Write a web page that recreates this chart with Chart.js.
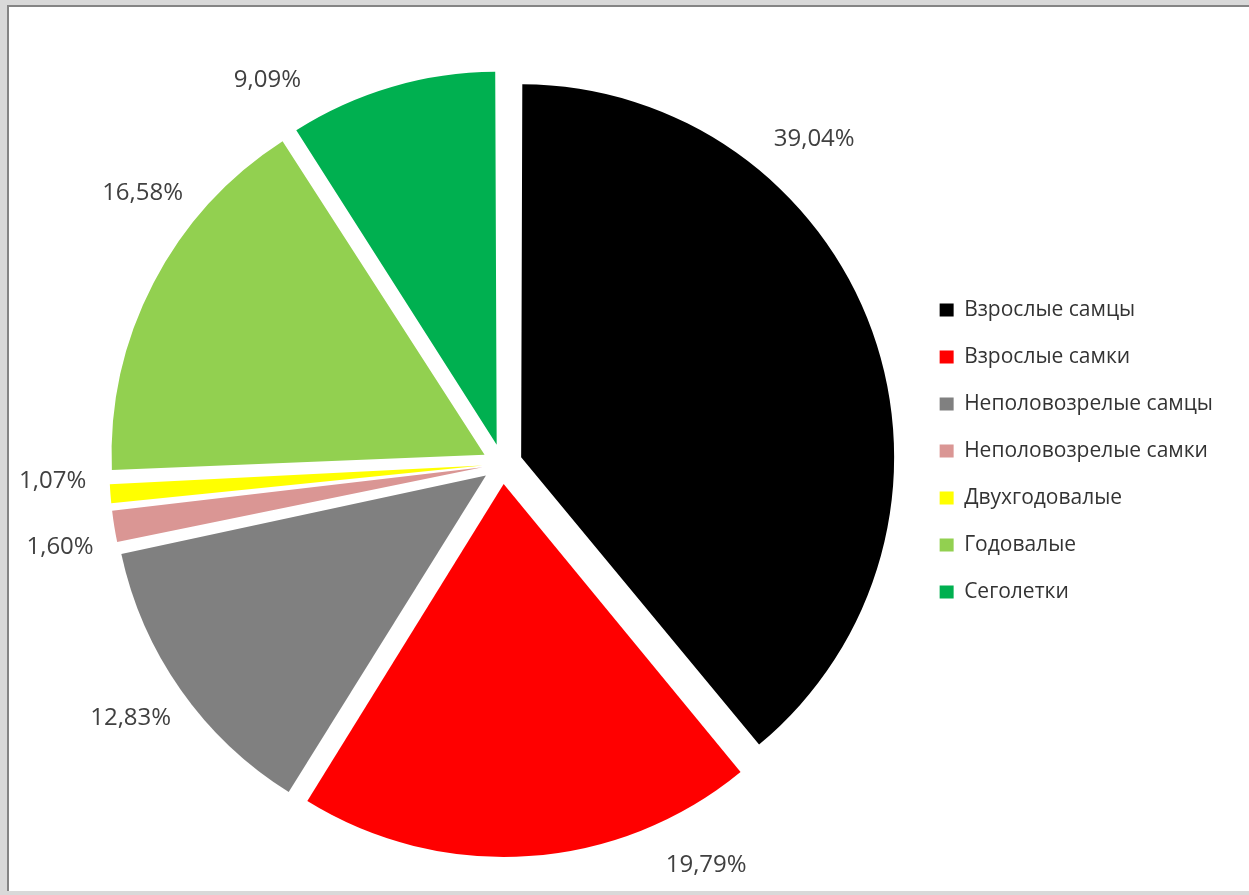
<!DOCTYPE html>
<html>
<head>
<meta charset="utf-8">
<script src="https://cdn.jsdelivr.net/npm/chart.js@4/dist/chart.umd.min.js"></script>
<style>
  html, body { margin: 0; padding: 0; }
  body { width: 1249px; height: 895px; background: #d9d9d9; position: relative; overflow: hidden; }
  #frame { position: absolute; left: 7px; top: 5px; right: 0; bottom: 4px; background: #fff;
           border-top: 2px solid #858585; border-left: 2px solid #858585; }
  #wrap { position: absolute; left: 0; top: 0; width: 1249px; height: 895px; }
</style>
</head>
<body>
<div id="frame"></div>
<div id="wrap"><canvas id="pieChart"></canvas></div>
<script>
const categories = [
    "Взрослые самцы",
    "Взрослые самки",
    "Неполовозрелые самцы",
    "Неполовозрелые самки",
    "Двухгодовалые",
    "Годовалые",
    "Сеголетки"
];
const shares = [39.04, 19.79, 12.83, 1.60, 1.07, 16.58, 9.09];
const shareLabels = ["39,04%", "19,79%", "12,83%", "1,60%", "1,07%", "16,58%", "9,09%"];
const colors = ["#000000", "#ff0000", "#808080", "#da9694", "#ffff00", "#92d050", "#00b050"];

// Chart.js grows thin exploded slices outward; keep every slice at the same radius
const evenRadius = {
    id: "evenRadius",
    beforeDatasetsDraw(chart) {
        const meta = chart.getDatasetMeta(0);
        const base = meta.controller.outerRadius;
        meta.data.forEach(arc => {
            const off = (arc.options.offset || 0) / 4;
            const circ = arc.endAngle - arc.startAngle;
            const fix = 1 - Math.sin(Math.min(Math.PI, circ));
            arc.outerRadius = base - off * fix;
        });
    }
};

// labels outside the slices, nudged round the circle like the original
const outsideLabels = {
    id: "outsideLabels",
    afterDatasetsDraw(chart, args, opts) {
        const ctx = chart.ctx;
        const meta = chart.getDatasetMeta(0);
        ctx.save();
        ctx.font = opts.font;
        ctx.fillStyle = opts.color;
        ctx.textAlign = "center";
        ctx.textBaseline = "middle";
        meta.data.forEach((arc, i) => {
            const mid = (arc.startAngle + arc.endAngle) / 2 + (opts.shift[i] || 0) * Math.PI / 180;
            const r = meta.controller.outerRadius + opts.distance;
            ctx.fillText(shareLabels[i], arc.x + Math.cos(mid) * r, arc.y + Math.sin(mid) * r);
        });
        ctx.restore();
    }
};

new Chart(document.getElementById("pieChart"), {
    type: "pie",
    data: {
        labels: categories,
        datasets: [{
            data: shares,
            backgroundColor: colors,
            borderWidth: 0,
            offset: 80,
            radius: 373
        }]
    },
    options: {
        responsive: true,
        maintainAspectRatio: false,
        animation: false,
        layout: { padding: { left: 91, right: 26, top: 7, bottom: 0 } },
        plugins: {
            tooltip: { enabled: false },
            title: {
                display: true,
                text: "",
                fullSize: false,
                font: { size: 10, lineHeight: 1.2 },
                padding: { top: 7, bottom: 7 }
            },
            legend: {
                position: "right",
                fullSize: true,
                labels: {
                    boxWidth: 14,
                    boxHeight: 13,
                    padding: 26,
                    color: "#333333",
                    font: { family: "Open Sans", size: 21 }
                }
            },
            outsideLabels: {
                font: "24px 'Open Sans'",
                color: "#404040",
                distance: 77,
                shift: [-26.4, -23.1, 0.8, -1.5, 2.1, 9.5, -15.1]
            }
        }
    },
    plugins: [evenRadius, outsideLabels]
});
</script>
</body>
</html>
